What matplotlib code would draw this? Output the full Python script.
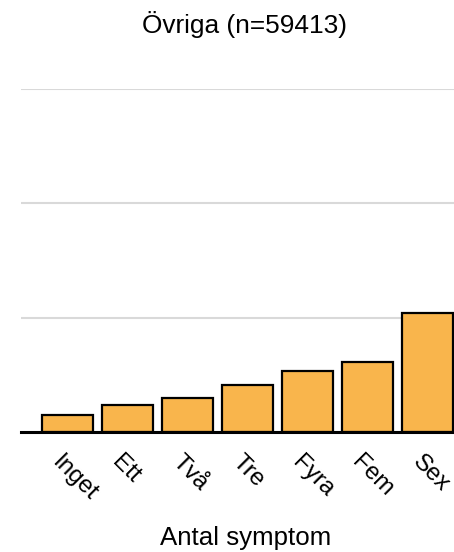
import matplotlib
matplotlib.use("Agg")
import matplotlib.pyplot as plt
import matplotlib.transforms as mtransforms

plt.rcParams['font.family'] = ['Liberation Sans', 'DejaVu Sans']

categories = ["Inget", "Ett", "Två", "Tre", "Fyra", "Fem", "Sex"]
values = [1.46, 2.34, 3.0, 4.14, 5.34, 6.15, 10.44]
grid_levels = [10, 20, 30]
title = "Övriga (n=59413)"
xlabel = "Antal symptom"

W, H = 454, 552
fig = plt.figure(figsize=(W / 100, H / 100), dpi=100)
ax = fig.add_axes([21 / W, (H - 432) / H, (W - 21) / W, (432 - 89) / H])

x = list(range(len(categories)))
ax.bar(x, values, width=0.85, color="#F9B54C", edgecolor="black",
       linewidth=1.6, zorder=3)

ax.set_xlim(-0.775, 6.442)
ax.set_ylim(0, 30)
ax.set_yticks(grid_levels)
ax.set_yticklabels([])
ax.tick_params(axis="y", length=0)
ax.grid(axis="y", color="#d9d9d9", linewidth=1.5, zorder=0)
ax.set_axisbelow(True)

for side in ("top", "right", "left"):
    ax.spines[side].set_visible(False)
ax.spines["bottom"].set_linewidth(2.2)
ax.spines["bottom"].set_zorder(4)

# rotated category labels hanging from the baseline
ax.set_xticks(x)
ax.set_xticklabels(categories, rotation=-45, ha="left", va="top",
                   rotation_mode="anchor", fontsize=17.5)
ax.tick_params(axis="x", length=0, pad=14)
shift = mtransforms.ScaledTranslation(-4 / 100, 0, fig.dpi_scale_trans)
for lbl in ax.get_xticklabels():
    lbl.set_transform(lbl.get_transform() + shift)

fig.text(245 / W, 1 - 33 / H, title, ha="center", va="baseline",
         fontsize=18.9)
ax.set_xlabel(xlabel, fontsize=18.6, va="baseline")
ax.xaxis.set_label_coords(246 / W, 1 - 545 / H, transform=fig.transFigure)

fig.savefig("out.png", dpi=100)
